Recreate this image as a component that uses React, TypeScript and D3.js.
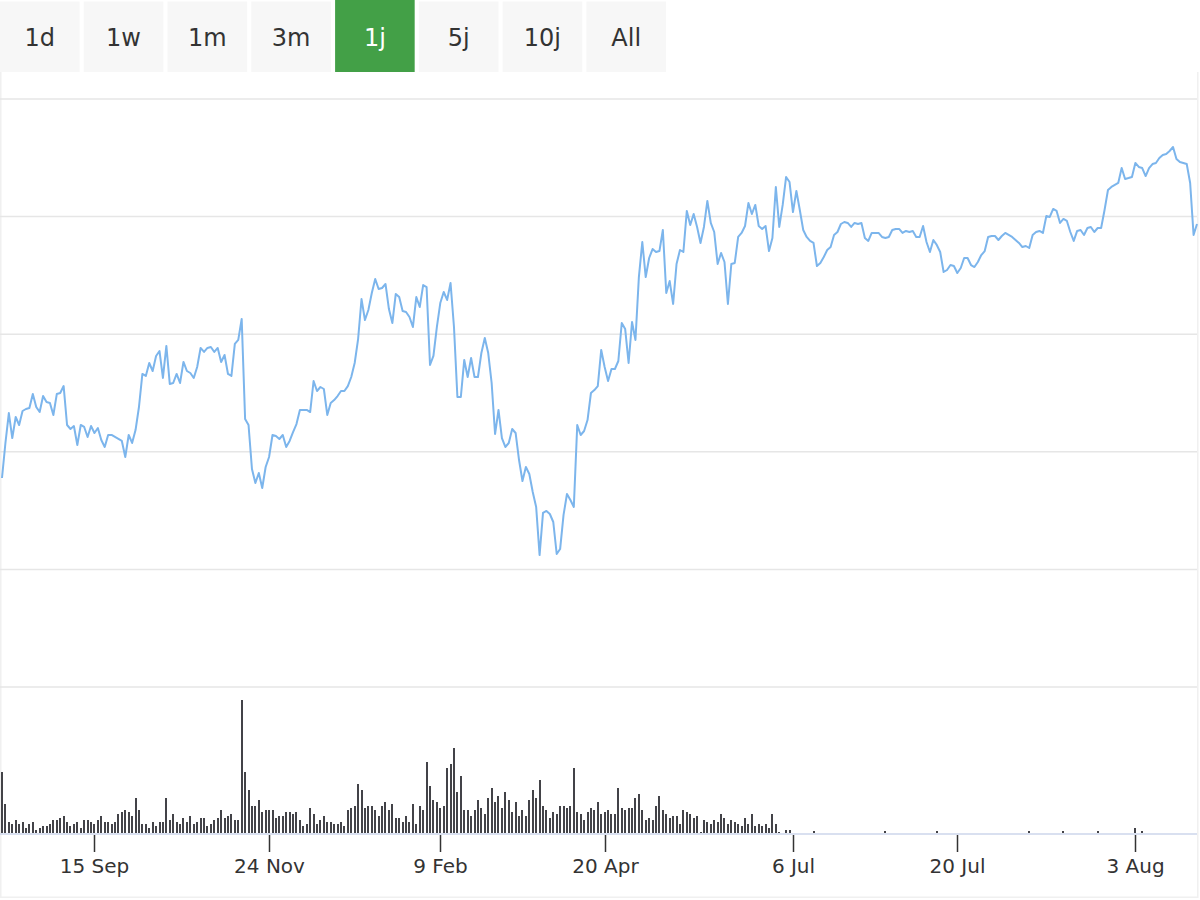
import React, { useRef, useEffect } from 'react';
import * as d3 from 'd3';

const rangeButtons = ['1d', '1w', '1m', '3m', '1j', '5j', '10j', 'All'];
const selectedRange = '1j';

// closing price per trading point (ordinal x axis)
const priceValues = [
  17.77, 20.75, 23.29, 21.17, 22.96, 22.28, 23.47, 23.64, 23.72, 24.91,
  23.81, 23.38, 24.74, 24.23, 24.15, 23.13, 24.91, 25.0, 25.59, 22.28,
  21.94, 22.19, 20.58, 22.28, 22.11, 21.26, 22.19, 21.6, 22.02, 21.0,
  20.41, 21.43, 21.43, 21.26, 21.09, 20.92, 19.56, 21.43, 20.75, 21.85,
  23.81, 26.62, 26.45, 27.55, 26.87, 28.15, 28.57, 26.28, 29.0, 25.77,
  25.85, 26.62, 25.85, 27.64, 26.87, 26.7, 26.28, 27.21, 28.83, 28.49,
  28.83, 28.91, 28.49, 28.83, 27.64, 28.23, 26.62, 26.45, 29.17, 29.51,
  31.29, 22.79, 22.28, 18.54, 17.35, 18.2, 16.92, 18.71, 19.56, 21.43,
  21.34, 21.09, 21.43, 20.41, 20.92, 21.68, 22.36, 23.56,
  23.56, 23.56, 23.38, 26.02, 25.17, 25.51, 25.34, 23.13, 24.15, 24.4,
  24.74, 25.17, 25.17, 25.59, 26.36, 27.55, 29.59, 32.99, 31.21, 32.06,
  33.5, 34.69, 33.84, 33.93, 34.27, 32.14, 30.95, 33.42, 33.16, 31.97,
  31.89, 31.46, 30.61, 33.16, 32.31, 34.18, 34.01, 27.38, 28.15, 30.61,
  32.65, 33.59, 32.91, 34.35, 30.61, 24.66, 24.66, 27.81, 26.36, 27.98,
  26.36, 26.36, 28.4, 29.68, 28.4, 25.85, 21.51, 23.56, 21.17, 20.41,
  20.75, 21.94, 21.6, 19.3, 17.52, 18.71, 18.11, 16.58, 15.31, 11.22,
  14.8, 14.97, 14.71, 14.03, 11.31, 11.73, 14.63, 16.41, 15.9, 15.31,
  22.28, 21.43, 21.77, 22.7, 25.0, 25.25, 25.59,
  28.66, 27.21, 26.02, 27.04, 27.04, 27.72, 30.95, 30.44, 27.55, 31.04,
  29.51, 34.86, 37.84, 34.86, 36.48, 37.24, 36.99, 37.07, 38.86, 33.5,
  34.52, 32.57, 35.97, 37.16, 36.99, 40.48, 39.29, 40.22, 39.12, 37.76,
  39.12, 41.33, 39.46, 38.69, 35.97, 36.91, 36.14, 32.57, 35.97, 36.06,
  38.27, 38.61, 39.2, 41.16, 40.22, 40.99, 39.2, 38.95, 39.2, 37.07,
  38.18, 42.52, 39.12, 40.99, 43.37, 42.94, 40.39, 42.18, 40.56, 38.86,
  38.27, 37.93, 37.76, 35.8, 36.06, 36.56, 37.16, 37.41, 38.44, 38.69,
  39.37, 39.54, 39.46, 39.12, 39.46, 39.37, 39.46, 38.18, 37.93, 38.61,
  38.61,
  38.61, 38.27, 38.18, 38.27, 38.86, 38.95, 38.95, 38.61, 38.78, 38.69,
  38.78, 38.27, 38.27, 39.2, 37.84, 36.99, 38.01, 37.59, 36.99, 35.29,
  35.46, 35.88, 35.8, 35.2, 35.63, 36.48, 36.48, 35.88, 35.71, 36.14,
  36.73, 37.07, 38.27, 38.35, 38.35, 38.01, 38.35, 38.61, 38.44, 38.27,
  38.01, 37.76, 37.41, 37.5, 37.33, 38.44, 38.69, 38.78, 38.61, 40.05,
  39.97, 40.65, 40.48, 39.46, 39.8, 39.63, 38.69, 37.93, 38.78, 38.86,
  38.44, 39.03, 39.12, 38.69, 39.03, 39.03, 40.56, 42.26, 42.52, 42.69,
  42.86, 44.13, 43.2, 43.28, 43.37, 44.56, 44.22, 44.13, 43.45, 44.13,
  44.47, 44.56, 44.98, 45.24, 45.32, 45.58, 45.92, 44.9, 44.64, 44.56,
  44.47, 42.86, 38.44, 39.37,
];

// traded volume for the first points of the period
const volumeValues = [
  61, 29, 11, 9, 13, 9, 11, 5, 9, 11, 3, 5, 7, 7, 9, 13, 13, 15, 17, 11,
  7, 9, 11, 5, 13, 13, 11, 9, 13, 17, 11, 11, 9, 11, 19, 21, 23, 21, 17, 35,
  23, 9, 9, 5, 11, 7, 11, 11, 35, 13, 19, 11, 9, 15, 11, 17, 9, 11,
  15, 15, 7, 9, 13, 15, 23, 15, 17, 19, 13, 13, 133, 61, 43, 27, 27, 33, 21, 23,
  23, 23, 15, 17, 17, 21, 21, 19, 21, 13, 7, 9, 25, 19, 9, 13, 17, 11, 11, 9,
  9, 11, 7, 23, 25, 27, 49, 43, 25, 27, 27, 23, 17, 27, 31, 23, 29, 15,
  15, 11, 17, 11, 29, 9, 27, 23, 71, 47, 33, 31, 25, 27, 65, 69, 85, 41, 57, 23,
  23, 17, 23, 33, 25, 19, 35, 45, 31, 37, 25, 41, 33, 21, 31, 17, 23, 17, 33, 43,
  35, 53, 27, 23, 15, 21, 19, 27, 27, 25, 27, 65, 21, 19, 13, 21, 25, 23,
  31, 19, 21, 23, 19, 19, 45, 25, 23, 25, 25, 35, 39, 23, 13, 15, 13, 27, 37, 23,
  19, 15, 17, 17, 9, 23, 21, 19, 15, 17, 1, 13, 11, 9, 13, 11, 19, 15, 9, 13,
  11, 9, 7, 15, 9, 19, 7, 9, 7, 9, 5, 19, 9, 1, 0, 3, 3,
];

// sparse volume later in the period: [point index, volume]
const lateVolume: [number, number][] = [
  [237, 2], [258, 2], [273, 2], [300, 2], [310, 2], [320, 2], [331, 5], [333, 2],
];

const tickLabels = ['15 Sep', '24 Nov', '9 Feb', '20 Apr', '6 Jul', '20 Jul', '3 Aug'];
const tickIndex = [27, 78, 128, 176, 231, 279, 331];
const priceTicks = [0, 10, 20, 30, 40, 50];

const FONT = '"DejaVu Sans", sans-serif';

const App: React.FC = () => {
  const svgRef = useRef<SVGSVGElement>(null);

  useEffect(() => {
    if (!svgRef.current) return;
    const svg = d3.select(svgRef.current);
    svg.selectAll('*').remove();

    const x = d3.scaleLinear().domain([0, priceValues.length - 1]).range([2, 1197]);
    const y = d3.scaleLinear().domain([0, 50]).range([687, 99]);
    const yVol = d3.scaleLinear().domain([0, 146]).range([833, 687]);

    // faint chart frame (sides and bottom only)
    svg.append('path')
      .attr('d', 'M0.75,72V897.25H1197.75V72')
      .attr('fill', 'none').attr('stroke', '#f0f0f0').attr('stroke-width', 1.5);

    // range selector buttons
    const bx = d3.scaleBand().domain(rangeButtons).range([0, 666]).paddingInner(0.05);
    const btn = svg.append('g').selectAll('g').data(rangeButtons).enter().append('g')
      .attr('transform', d => `translate(${bx(d)},0)`);
    btn.append('rect')
      .attr('y', d => (d === selectedRange ? 0 : 1.5))
      .attr('width', bx.bandwidth())
      .attr('height', d => (d === selectedRange ? 72 : 70.5))
      .attr('fill', d => (d === selectedRange ? '#43a047' : '#f7f7f7'));
    btn.append('text')
      .attr('x', bx.bandwidth() / 2).attr('y', 46)
      .attr('text-anchor', 'middle')
      .attr('font-family', FONT).attr('font-size', 24)
      .attr('fill', d => (d === selectedRange ? '#ffffff' : '#333333'))
      .text(d => d);

    // gridlines
    svg.append('g').selectAll('line').data(priceTicks).enter().append('line')
      .attr('x1', 0).attr('x2', 1197)
      .attr('y1', d => y(d)).attr('y2', d => y(d))
      .attr('stroke', '#e6e6e6').attr('stroke-width', 1.5);

    // price line
    const line = d3.line<number>()
      .x((_, i) => x(i))
      .y(d => y(d));
    svg.append('path')
      .datum(priceValues)
      .attr('d', line)
      .attr('fill', 'none')
      .attr('stroke', '#7cb5ec')
      .attr('stroke-width', 2)
      .attr('stroke-linejoin', 'round');

    // volume bars
    const vol: [number, number][] = volumeValues
      .map((v, i) => [i, v] as [number, number])
      .concat(lateVolume)
      .filter(d => d[1] > 0);
    svg.append('g').selectAll('rect').data(vol).enter().append('rect')
      .attr('x', d => Math.round(x(d[0])) - 1)
      .attr('y', d => yVol(d[1]))
      .attr('width', 2)
      .attr('height', d => yVol(0) - yVol(d[1]))
      .attr('fill', '#434348')
      .attr('shape-rendering', 'crispEdges');

    // x axis
    svg.append('line')
      .attr('x1', 0).attr('x2', 1197)
      .attr('y1', 834).attr('y2', 834)
      .attr('stroke', '#ccd6eb').attr('stroke-width', 1.5);

    const ticks = svg.append('g').selectAll('g').data(tickIndex).enter().append('g')
      .attr('transform', d => `translate(${Math.round(x(d)) + 0.5},0)`);
    ticks.append('line')
      .attr('y1', 835).attr('y2', 852)
      .attr('stroke', '#333333').attr('stroke-width', 1.5);
    ticks.append('text')
      .attr('y', 873)
      .attr('text-anchor', 'middle')
      .attr('font-family', FONT).attr('font-size', 20)
      .attr('fill', '#333333')
      .text((_, i) => tickLabels[i]);
  }, []);

  return (
    <div style={{ position: 'absolute', left: 0, top: 0 }}>
      <svg ref={svgRef} width={1200} height={900} />
    </div>
  );
};

export default App;
